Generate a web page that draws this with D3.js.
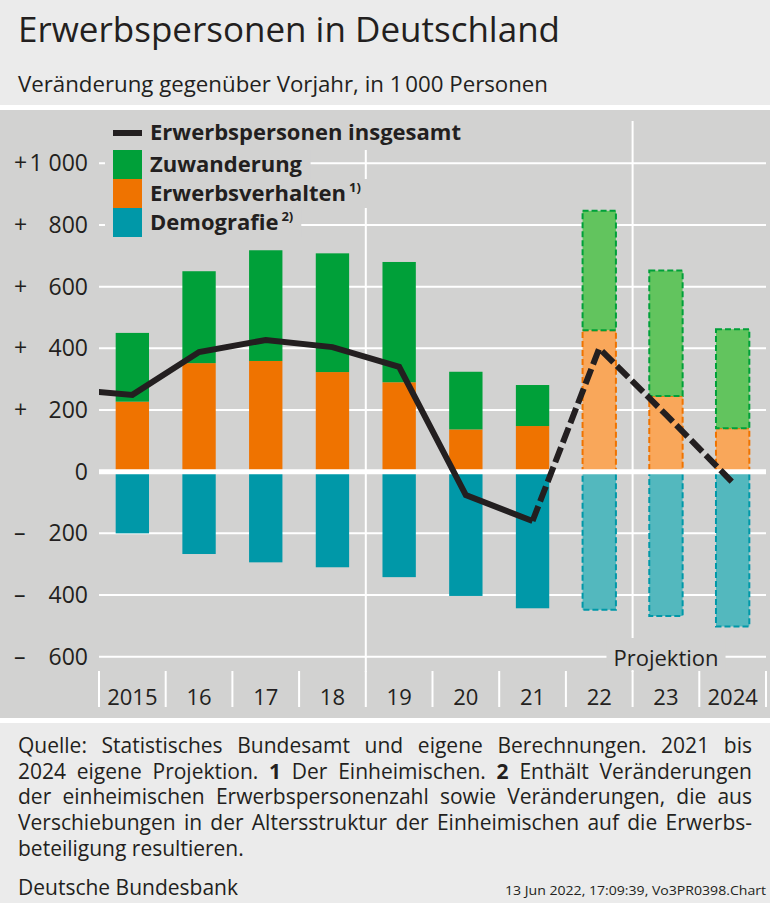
<html>
<head>
<meta charset="utf-8">
<title>Erwerbspersonen in Deutschland</title>
<script src="https://d3js.org/d3.v7.min.js"></script>
<style>
    body { margin: 0; background: #ffffff; font-family: 'Open Sans', 'Noto Sans', sans-serif; }
    svg { display: block; }
    text { fill: #231f20; }
</style>
</head>
<body>
<svg id="chart" width="770" height="903"></svg>

<script>
// values, in 1 000 persons
var years = ["2015", "16", "17", "18", "19", "20", "21", "22", "23", "2024"];
var projected = ["22", "23", "2024"];
var erwerbsverhalten = [227, 352, 359, 323, 290, 137, 148, 459, 245, 141];
var zuwanderung = [223, 298, 359, 385, 390, 187, 133, 387, 407, 321];
var demografie = [-200, -267, -294, -310, -342, -403, -443, -448, -468, -502];
var lineYears = ["2014", "2015", "16", "17", "18", "19", "20", "21", "22", "23", "2024"];
var insgesamt = [268, 249, 388, 427, 404, 340, -76, -160, 400, 185, -35];
var yTicks = [-600, -400, -200, 0, 200, 400, 600, 800, 1000];
var legendNames = ["Zuwanderung", "Erwerbsverhalten", "Demografie"];
var legendNotes = ["", "1)", "2)"];
var footLines = [
    "Quelle: Statistisches Bundesamt und eigene Berechnungen. 2021 bis",
    "2024 eigene Projektion. **1** Der Einheimischen. **2** Enthält Veränderungen",
    "der einheimischen Erwerbspersonenzahl sowie Veränderungen, die aus",
    "Verschiebungen in der Altersstruktur der Einheimischen auf die Erwerbs-",
    "beteiligung resultieren."
];

var colors = {
    zuw: "#00a039", zuwLight: "#62c45e",
    erw: "#ef7300", erwLight: "#f9a75a",
    dem: "#0098a8", demLight: "#53b8be",
    panel: "#d2d2d1", header: "#ebebeb", grid: "#ffffff", ink: "#231f20"
};

var svg = d3.select("#chart");
var W = 770;

// backgrounds
svg.append("rect").attr("x", 0).attr("y", 0).attr("width", W).attr("height", 105).attr("fill", colors.header);
svg.append("rect").attr("x", 0).attr("y", 110).attr("width", W).attr("height", 608).attr("fill", colors.panel);
svg.append("rect").attr("x", 0).attr("y", 723).attr("width", W).attr("height", 180).attr("fill", colors.header);

// title
svg.append("text").attr("x", 18).attr("y", 42)
    .attr("font-size", 34).attr("font-weight", 500).attr("textLength", 542).attr("lengthAdjust", "spacingAndGlyphs")
    .text("Erwerbspersonen in Deutschland");
svg.append("text").attr("x", 18).attr("y", 92)
    .attr("font-size", 22).attr("textLength", 530).attr("lengthAdjust", "spacingAndGlyphs")
    .attr("fill", "#3a3a3a")
    .text("Veränderung gegenüber Vorjahr, in 1\u202F000 Personen");

// scales
var x = d3.scaleBand().domain(years).range([99, 766]).paddingInner(0.5).paddingOuter(0.25);
var y = d3.scaleLinear().domain([-600, 1000]).range([656.7, 163.3]);
var xc = function (d) {
    if (d === "2014") return x("2015") + x.bandwidth() / 2 - x.step();
    return x(d) + x.bandwidth() / 2;
};
var left = x.range()[0], right = x.range()[1];
var bound = function (i) { return left + i * x.step(); };

// gridlines
svg.append("g").selectAll("line").data(yTicks.filter(function (d) { return d !== 0; }))
    .enter().append("line")
    .attr("x1", left).attr("x2", right)
    .attr("y1", function (d) { return y(d); }).attr("y2", function (d) { return y(d); })
    .attr("stroke", colors.grid).attr("stroke-width", 2);

// vertical separators (2018/19 and 22/23)
svg.append("g").selectAll("line").data([4, 8]).enter().append("line")
    .attr("x1", bound).attr("x2", bound)
    .attr("y1", 121).attr("y2", 672)
    .attr("stroke", colors.grid).attr("stroke-width", 2);

// category ticks
svg.append("g").selectAll("line").data(d3.range(years.length + 1)).enter().append("line")
    .attr("x1", bound).attr("x2", bound)
    .attr("y1", 671).attr("y2", 707)
    .attr("stroke", colors.grid).attr("stroke-width", 2);

// y labels
var yl = svg.append("g").attr("font-size", 23);
yl.selectAll("text.num").data(yTicks).enter().append("text")
    .attr("class", "num")
    .attr("x", 88).attr("y", function (d) { return y(d) + 8; })
    .attr("text-anchor", "end")
    .text(function (d) { return d3.format(",")(Math.abs(d)).replace(",", " "); });
yl.selectAll("text.sign").data(yTicks.filter(function (d) { return d !== 0; })).enter().append("text")
    .attr("class", "sign")
    .attr("x", 14).attr("y", function (d) { return y(d) + 8; })
    .text(function (d) { return d > 0 ? "+" : "\u2013"; });

// x labels
svg.append("g").attr("font-size", 22).selectAll("text").data(years).enter().append("text")
    .attr("x", xc).attr("y", 705).attr("text-anchor", "middle")
    .text(function (d) { return d; });

// bars
var rows = years.map(function (d, i) {
    return { year: d, erw: erwerbsverhalten[i], zuw: zuwanderung[i], dem: demografie[i], proj: projected.indexOf(d) >= 0 };
});
var bars = svg.append("g");
function addBars(key, lo, hi, fill, light) {
    bars.selectAll("rect." + key).data(rows).enter().append("rect")
        .attr("class", key)
        .attr("x", function (d) { return x(d.year); })
        .attr("width", x.bandwidth())
        .attr("y", function (d) { return y(Math.max(lo(d), hi(d))); })
        .attr("height", function (d) { return Math.abs(y(lo(d)) - y(hi(d))); })
        .attr("fill", function (d) { return d.proj ? light : fill; })
        .attr("stroke", function (d) { return d.proj ? fill : "none"; })
        .attr("stroke-width", 2)
        .attr("stroke-dasharray", "6,3");
}
addBars("erw", function () { return 0; }, function (d) { return d.erw; }, colors.erw, colors.erwLight);
addBars("zuw", function (d) { return d.erw; }, function (d) { return d.erw + d.zuw; }, colors.zuw, colors.zuwLight);
addBars("dem", function () { return 0; }, function (d) { return d.dem; }, colors.dem, colors.demLight);

// zero line
svg.append("line").attr("x1", left).attr("x2", right)
    .attr("y1", y(0)).attr("y2", y(0))
    .attr("stroke", colors.grid).attr("stroke-width", 5);

// total line
svg.append("clipPath").attr("id", "plotclip").append("rect")
    .attr("x", left).attr("y", 110).attr("width", right - left).attr("height", 608);
var pts = lineYears.map(function (d, i) { return [xc(d), y(insgesamt[i])]; });
var split = lineYears.indexOf("21");
var lineGen = d3.line();
var lg = svg.append("g").attr("clip-path", "url(#plotclip)");
lg.append("path").attr("d", lineGen(pts.slice(0, split + 1)))
    .attr("fill", "none").attr("stroke", colors.ink).attr("stroke-width", 6)
    .attr("stroke-linejoin", "miter");
lg.append("path").attr("d", lineGen(pts.slice(split)))
    .attr("fill", "none").attr("stroke", colors.ink).attr("stroke-width", 6)
    .attr("stroke-dasharray", "16,5").attr("stroke-linejoin", "miter");

// legend (masks gridlines behind its texts)
var leg = svg.append("g").attr("font-size", 22).attr("font-weight", "bold");
var lm = leg.append("g");
var t0 = leg.append("text").attr("x", 150).attr("y", 140).text("Erwerbspersonen insgesamt");
leg.append("line").attr("x1", 113).attr("x2", 142).attr("y1", 133).attr("y2", 133)
    .attr("stroke", colors.ink).attr("stroke-width", 6);
var b0 = t0.node().getBBox();
lm.append("rect").attr("x", 105).attr("y", 118).attr("width", b0.x + b0.width + 7 - 105).attr("height", 32).attr("fill", colors.panel);
var swCols = [colors.zuw, colors.erw, colors.dem];
legendNames.forEach(function (name, i) {
    var top = 150 + i * 29;
    leg.append("rect").attr("x", 113).attr("y", top).attr("width", 29).attr("height", 29).attr("fill", swCols[i]);
    var t = leg.append("text").attr("x", 150).attr("y", top + 22).text(name);
    if (legendNotes[i]) {
        t.append("tspan").attr("dx", 3).attr("dy", -9).attr("font-size", 13).text(legendNotes[i]);
    }
    var b = t.node().getBBox();
    lm.append("rect").attr("x", 105).attr("y", top).attr("width", b.x + b.width + 8 - 105).attr("height", 29).attr("fill", colors.panel);
});

// Projektion label
var pt = svg.append("text").attr("x", 666).attr("y", 666).attr("font-size", 22)
    .attr("text-anchor", "middle").text("Projektion");
var pb = pt.node().getBBox();
svg.insert("rect", function () { return pt.node(); })
    .attr("x", pb.x - 7).attr("y", 638).attr("width", pb.width + 14).attr("height", 32)
    .attr("fill", colors.panel);

// footer, justified lines
var foot = svg.append("g").attr("font-size", 21);
var fx0 = 18, fx1 = 752, fy0 = 753, fdy = 25.7;
function measure(str, bold) {
    var t = foot.append("text").attr("font-weight", bold ? "bold" : "normal").text(str);
    var w = t.node().getComputedTextLength();
    t.remove();
    return w;
}
var spaceW = measure("a a") - measure("aa");
var parsed = footLines.map(function (line) {
    return line.split(" ").map(function (w) {
        var bold = /^\*\*.*\*\*$/.test(w);
        var s = w.replace(/\*\*/g, "");
        return { s: s, bold: bold, w: measure(s, bold) };
    });
});
var natural = parsed.map(function (ws) {
    return d3.sum(ws, function (d) { return d.w; }) + spaceW * (ws.length - 1);
});
var sx = Math.min(1, (fx1 - fx0) / d3.max(natural));
parsed.forEach(function (ws, li) {
    var last = li === parsed.length - 1;
    var total = d3.sum(ws, function (d) { return d.w; }) * sx;
    var gap = last ? spaceW * sx : ((fx1 - fx0) - total) / (ws.length - 1);
    var cx = fx0;
    ws.forEach(function (w) {
        foot.append("text")
            .attr("transform", "translate(" + cx + "," + (fy0 + li * fdy) + ") scale(" + sx + ",1)")
            .attr("font-weight", w.bold ? "bold" : "normal")
            .text(w.s);
        cx += w.w * sx + gap;
    });
});

svg.append("text").attr("x", 18).attr("y", 895).attr("font-size", 21)
    .attr("transform", "translate(18,0) scale(" + sx + ",1) translate(-18,0)")
    .text("Deutsche Bundesbank");
svg.append("text").attr("x", 766).attr("y", 895).attr("font-size", 13.5)
    .attr("text-anchor", "end").attr("fill", "#444")
    .attr("textLength", 261).attr("lengthAdjust", "spacingAndGlyphs")
    .text("13 Jun 2022, 17:09:39, Vo3PR0398.Chart");
</script>
</body>
</html>
